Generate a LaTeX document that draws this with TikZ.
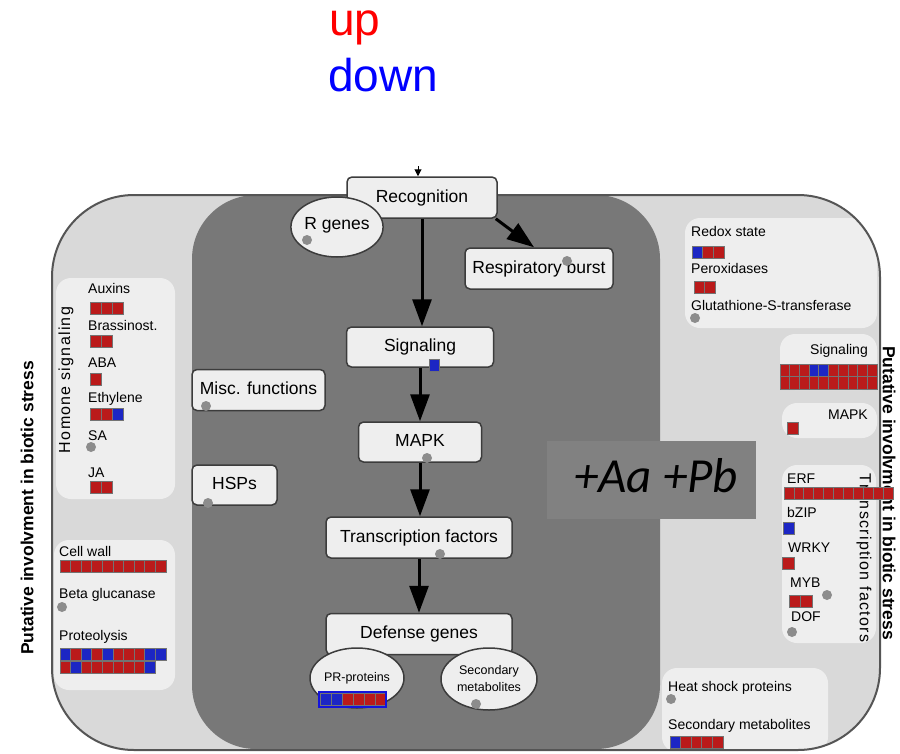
\documentclass[tikz,border=0pt]{standalone}
\usepackage{fontspec}
\setmainfont{Liberation Sans}
\newfontfamily\tagfont{Carlito}
\usetikzlibrary{arrows.meta,shapes.geometric,positioning}

\newlength{\du}
\setlength{\du}{1pt}

\definecolor{outerfill}{RGB}{217,217,217}
\definecolor{innerfill}{RGB}{120,120,120}
\definecolor{tagfill}{RGB}{129,129,129}
\definecolor{panelfill}{RGB}{238,238,238}
\definecolor{boxfill}{RGB}{238,238,238}
\definecolor{boxline}{RGB}{60,60,60}
\definecolor{rimline}{RGB}{85,85,85}
\definecolor{dotgray}{RGB}{140,140,140}
\definecolor{cellr}{RGB}{186,26,26}
\definecolor{cellb}{RGB}{28,38,196}
\definecolor{cellline}{RGB}{115,115,115}
\definecolor{prline}{RGB}{20,20,220}
\definecolor{upred}{RGB}{255,0,0}
\definecolor{downblue}{RGB}{0,0,255}

\tikzset{
  legendtext/.style={anchor=base west, inner sep=0pt, font=\fontsize{46}{50}\selectfont},
  tagtext/.style={anchor=base, inner sep=0pt, font=\tagfont\itshape\fontsize{49}{52}\selectfont},
  flowbox/.style={draw=boxline, fill=boxfill, line width=1.5\du, rounded corners=5\du, inner sep=0pt,
    font=\fontsize{17.5}{20}\selectfont, text height=12.5pt, text depth=3.5pt},
  genebubble/.style={ellipse, draw=boxline, fill=boxfill, line width=1.5\du, inner sep=0pt,
    align=center, font=\fontsize{12.5}{17}\selectfont},
  itemlabel/.style={anchor=west, inner sep=0pt, font=\fontsize{14}{16}\selectfont, text height=10pt, text depth=0pt},
  grouptitle/.style={inner sep=0pt, font=\fontsize{16}{18}\selectfont\addfontfeatures{LetterSpace=8}},
  sidetitle/.style={inner sep=0pt, font=\bfseries\fontsize{17.5}{20}\selectfont},
  panel/.style={fill=panelfill, rounded corners=15\du},
  cellbox/.style={draw=cellline, line width=0.8\du},
  graydot/.style={fill=dotgray},
  flow/.style={-{Triangle[length=27pt,width=19pt]}, line width=3\du, black},
  feed/.style={-{Triangle[length=7pt,width=7pt]}, line width=1\du, black},
}

% row of expression cells: x, top y, cell width, colours (r/b)
\newcommand{\cellrow}[4]{%
  \foreach \col [count=\n from 0] in {#4} {%
    \pgfmathsetmacro{\cxa}{#1+\n*#3}%
    \pgfmathsetmacro{\cxb}{#1+(\n+1)*#3}%
    \pgfmathsetmacro{\cyb}{#2+12.5}%
    \draw[cellbox, fill=cell\col] (\cxa\du,#2\du) rectangle (\cxb\du,\cyb\du);
  }}
\newcommand{\spotat}[2]{\fill[graydot] (#1\du,#2\du) circle (5\du);}

\begin{document}
\begin{tikzpicture}
\pgftransformyscale{-1.000000}
\useasboundingbox (0\du,0\du) rectangle (900\du,753\du);
% legend
\node[legendtext, text=upred] (up) at (329\du,35\du) {up};
\node[legendtext, text=downblue] (down) at (328\du,91\du) {down};
% cell
\begin{scope}
\clip[rounded corners=82\du] (52\du,195\du) rectangle (880\du,750\du);
\fill[outerfill] (52\du,195\du) rectangle (880\du,750\du);
\fill[innerfill, rounded corners=64\du] (192\du,195\du) rectangle (660\du,749\du);
\fill[panel] (56\du,278\du) rectangle (175\du,499\du);
\fill[panel] (54\du,540\du) rectangle (175\du,690\du);
\fill[panel] (685\du,218\du) rectangle (877\du,328\du);
\fill[panel] (780\du,334\du) rectangle (877\du,390\du);
\fill[panel] (782\du,403\du) rectangle (877\du,438\du);
\fill[panel] (782\du,465\du) rectangle (876\du,643\du);
\fill[panel] (662\du,668\du) rectangle (828\du,752\du);
\end{scope}
\fill[tagfill] (547\du,441\du) rectangle (756\du,519\du);
\node[tagtext] (infection) at (656\du,492\du) {+Aa +Pb};
\draw[rimline, line width=2\du, rounded corners=82\du] (52\du,195\du) rectangle (880\du,750\du);
% pathway
\node[flowbox, minimum width=150\du, minimum height=41\du] (reco) at (422\du,197.5\du) {Recognition};
\node[genebubble, font=\fontsize{17.5}{20}\selectfont, text height=12pt, text depth=8pt,
  minimum width=88\du, minimum height=60\du] (rgenes) at (337\du,227\du) {R genes};
\node[flowbox, minimum width=148\du, minimum height=41\du] (resp) at (539\du,268.5\du) {Respiratory burst};
\node[flowbox, minimum width=147\du, minimum height=40\du] (sig) at (420\du,347\du) {Signaling};
\node[flowbox, minimum width=123\du, minimum height=40\du] (mapk) at (420\du,442\du) {MAPK};
\node[flowbox, minimum width=186\du, minimum height=41\du] (tf) at (419\du,537.5\du) {Transcription factors};
\node[flowbox, minimum width=186\du, minimum height=41\du] (defense) at (419\du,634\du) {Defense genes};
\node[genebubble, minimum width=94\du, minimum height=60\du] (pr) at (357\du,678\du) {PR-proteins};
\node[genebubble, minimum width=96\du, minimum height=62\du] (secmet) at (489\du,679\du) {Secondary\\metabolites};
\node[flowbox, minimum width=133\du, minimum height=41\du] (misc) at (258.5\du,390\du) {Misc. functions};
\node[flowbox, minimum width=85\du, minimum height=40\du] (hsps) at (234.5\du,485\du) {HSPs};
\coordinate (feedin) at (418\du,166\du);
\draw[feed] (feedin) -- (feedin |- reco.north);
\draw[flow] (reco.south) -- (reco.south |- sig.north);
\draw[flow] ([xshift=-2\du]reco.south east) -- ([xshift=-5\du]resp.north);
\draw[flow] (sig.south) -- (mapk.north);
\draw[flow] (mapk.south) -- (mapk.south |- tf.north);
\draw[flow] (tf.south) -- (defense.north);
\spotat{307}{240}
\spotat{567}{261}
\spotat{427}{458}
\spotat{440}{554}
\spotat{206}{406}
\spotat{208}{503}
\spotat{476}{704}
\draw[cellbox, fill=cellb] (429\du,359\du) rectangle (439\du,371\du);
\cellrow{320}{693}{11}{b,b,r,r,r,r}
\draw[prline, line width=1.5\du] (319\du,692\du) rectangle (386\du,707\du);
% hormone signaling
\node[grouptitle, rotate=90] (hormone) at (66\du,380\du) {Homone signaling};
\node[itemlabel] (auxins) at (88\du,288\du) {Auxins};
\cellrow{90}{302}{11}{r,r,r}
\node[itemlabel] (brass) at (88\du,325\du) {Brassinost.};
\cellrow{90}{335}{11}{r,r}
\node[itemlabel] (aba) at (88\du,362\du) {ABA};
\cellrow{90}{373}{11}{r}
\node[itemlabel] (ethylene) at (88\du,397\du) {Ethylene};
\cellrow{90}{408}{11}{r,r,b}
\node[itemlabel] (sa) at (88\du,435\du) {SA};
\spotat{91}{447}
\node[itemlabel] (ja) at (88\du,472\du) {JA};
\cellrow{90}{481}{11}{r,r}
% cell wall
\node[itemlabel] (cellwall) at (59\du,551\du) {Cell wall};
\cellrow{60}{560}{10.6}{r,r,r,r,r,r,r,r,r,r}
\node[itemlabel] (glucanase) at (59\du,593\du) {Beta glucanase};
\spotat{62}{607}
\node[itemlabel] (proteolysis) at (59\du,635\du) {Proteolysis};
\cellrow{60}{648}{10.6}{b,r,b,r,b,r,r,r,b,b}
\cellrow{60}{661}{10.6}{r,b,r,r,r,r,r,r,b}
% redox
\node[itemlabel] (redox) at (691\du,231\du) {Redox state};
\cellrow{692}{246}{10.7}{b,r,r}
\node[itemlabel] (perox) at (691\du,268\du) {Peroxidases};
\cellrow{694}{281}{10.7}{r,r}
\node[itemlabel] (gst) at (691\du,305\du) {Glutathione-S-transferase};
\spotat{695}{318}
% signaling and MAPK
\node[itemlabel, anchor=east] (sigitem) at (868\du,349\du) {Signaling};
\cellrow{780}{364}{9.7}{r,r,r,b,b,r,r,r,r,r}
\cellrow{780}{376.5}{9.7}{r,r,r,r,r,r,r,r,r,r}
\node[itemlabel, anchor=east] (mapkitem) at (868\du,414\du) {MAPK};
\cellrow{787}{422}{11.5}{r}
% transcription factors
\node[grouptitle, rotate=-90] (tfgroup) at (864\du,558\du) {Transcription factors};
\node[itemlabel] (erf) at (787\du,478\du) {ERF};
\node[itemlabel] (bzip) at (787\du,512\du) {bZIP};
\cellrow{783}{522}{11.5}{b}
\node[itemlabel] (wrky) at (788\du,547\du) {WRKY};
\cellrow{782}{557}{12}{r}
\node[itemlabel] (myb) at (790\du,582\du) {MYB};
\cellrow{789}{595}{11.5}{r,r}
\spotat{827}{595}
\node[itemlabel] (dof) at (791\du,616\du) {DOF};
\spotat{792}{632}
% heat shock and secondary metabolites
\node[itemlabel] (hsp) at (668\du,686\du) {Heat shock proteins};
\spotat{671}{699}
\node[itemlabel] (secitem) at (668\du,724\du) {Secondary metabolites};
\cellrow{670}{736}{10.6}{b,r,r,r,r}
% side titles
\node[sidetitle, rotate=90] (leftaxis) at (27\du,508\du) {Putative involvment in biotic stress};
\node[sidetitle, rotate=-90] (rightaxis) at (889\du,493\du) {Putative involvment in biotic stress};
\cellrow{784}{487}{9.9}{r,r,r,r,r,r,r,r,r,r,r}
\end{tikzpicture}
\end{document}
